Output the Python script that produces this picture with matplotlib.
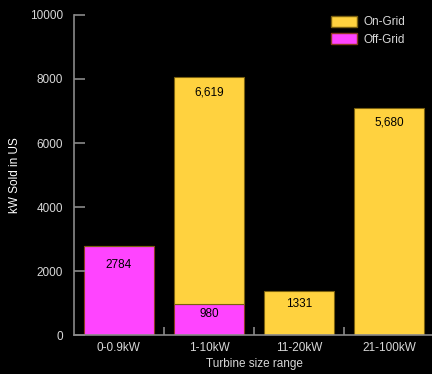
import matplotlib
matplotlib.use("Agg")
import matplotlib.pyplot as plt
from matplotlib.patches import Patch

# data
categories = ["0-0.9kW", "1-10kW", "11-20kW", "21-100kW"]
off_grid = [2784, 980, 0, 0]
on_grid = [0, 7080, 1375, 7090]
bar_labels_off = ["2784", "980", "", ""]
bar_labels_on = ["", "6,619", "1331", "5,680"]
y_ticks = [0, 2000, 4000, 6000, 8000, 10000]

YELLOW = "#FFD23F"
PINK = "#FF44FF"
GREY = "#8a8a8a"
TXT = "#d8d8d8"
FS = 8.5

plt.rcParams["font.family"] = ["Liberation Sans", "DejaVu Sans"]

fig = plt.figure(figsize=(4.32, 3.74), dpi=100, facecolor="black")
ax = fig.add_axes([0.171, 0.104, 0.834, 0.856], facecolor="black")

x = list(range(len(categories)))
w = 0.78
ax.bar(x, off_grid, w, color=PINK, edgecolor="#8a3a20", linewidth=0.8)
ax.bar(x, on_grid, w, bottom=off_grid, color=YELLOW,
       edgecolor="#7a6010", linewidth=0.8)

# value labels inside the bars (offsets in points below segment top)
off_pad = [-13.5, -7.5, 0, 0]
on_pad = [0, -11, -9, -10.5]
for i in x:
    if bar_labels_off[i]:
        ax.annotate(bar_labels_off[i], (i, off_grid[i]), xytext=(0, off_pad[i]),
                    textcoords="offset points", ha="center", va="center",
                    fontsize=FS, color="black")
    if bar_labels_on[i]:
        top = off_grid[i] + on_grid[i]
        ax.annotate(bar_labels_on[i], (i, top), xytext=(0, on_pad[i]),
                    textcoords="offset points", ha="center", va="center",
                    fontsize=FS, color="black")

ax.set_xlim(-0.5, 3.5)
ax.set_ylim(0, 10000)
ax.set_yticks(y_ticks)
ax.set_xticks(x)
ax.set_xticklabels(categories)
ax.set_xticks([0.5, 1.5, 2.5], minor=True)
ax.tick_params(axis="x", which="major", length=0, pad=5, labelsize=FS,
               labelcolor=TXT)
ax.tick_params(axis="x", which="minor", length=6, color=GREY, width=1.2,
               direction="in")
ax.tick_params(axis="y", length=8, color=GREY, width=1.2, labelsize=FS,
               labelcolor=TXT, pad=8, direction="in")

for s in ["top", "right"]:
    ax.spines[s].set_visible(False)
for s in ["left", "bottom"]:
    ax.spines[s].set_color(GREY)
    ax.spines[s].set_linewidth(1.2)

ax.set_xlabel("Turbine size range", color=TXT, fontsize=FS, labelpad=3)
ax.set_ylabel("kW Sold in US", color="white", fontsize=FS)
ax.yaxis.set_label_coords(-0.147, 0.5)

handles = [Patch(facecolor=YELLOW, edgecolor="#7a6010", label="On-Grid"),
           Patch(facecolor=PINK, edgecolor="#8a3a20", label="Off-Grid")]
leg = ax.legend(handles=handles, loc="upper left", frameon=False,
                fontsize=FS, labelcolor=TXT, handlelength=2.2,
                handleheight=1.1, handletextpad=0.55, labelspacing=0.4,
                bbox_to_anchor=(0.70, 1.013), borderaxespad=0.0)

fig.savefig("out.png", dpi=100, facecolor="black")
